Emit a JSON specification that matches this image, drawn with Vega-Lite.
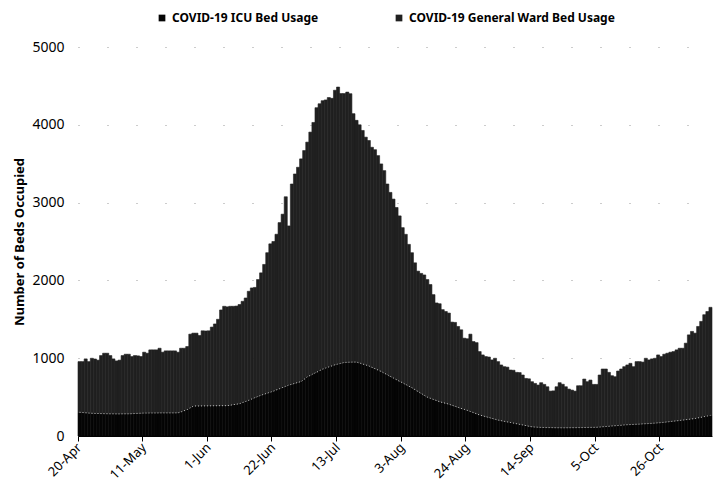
{
  "$schema": "https://vega.github.io/schema/vega-lite/v6.json",
  "width": 634,
  "height": 389,
  "autosize": {"type": "none"},
  "padding": {"left": 78, "top": 47, "right": 11, "bottom": 55},
  "background": "white",
  "config": {
    "font": "Noto Sans",
    "view": {"stroke": null},
    "axis": {"labelColor": "#000000", "titleColor": "#000000"}
  },
  "data": {
    "values": [
      {"d":"20-Apr","icu":305,"ward":651},{"d":"21-Apr","icu":302,"ward":654},{"d":"22-Apr","icu":298,"ward":693},{"d":"23-Apr","icu":295,"ward":661},{"d":"24-Apr","icu":292,"ward":707},{"d":"25-Apr","icu":290,"ward":700},{"d":"26-Apr","icu":289,"ward":686},{"d":"27-Apr","icu":288,"ward":746},{"d":"28-Apr","icu":287,"ward":777},{"d":"29-Apr","icu":286,"ward":778},{"d":"30-Apr","icu":285,"ward":749},
      {"d":"1-May","icu":285,"ward":706},{"d":"2-May","icu":284,"ward":681},{"d":"3-May","icu":284,"ward":691},{"d":"4-May","icu":285,"ward":749},{"d":"5-May","icu":285,"ward":766},{"d":"6-May","icu":285,"ward":766},{"d":"7-May","icu":287,"ward":734},{"d":"8-May","icu":289,"ward":745},{"d":"9-May","icu":291,"ward":739},{"d":"10-May","icu":293,"ward":728},{"d":"11-May","icu":295,"ward":782},{"d":"12-May","icu":295,"ward":769},{"d":"13-May","icu":296,"ward":811},{"d":"14-May","icu":296,"ward":811},{"d":"15-May","icu":296,"ward":811},{"d":"16-May","icu":297,"ward":831},{"d":"17-May","icu":297,"ward":780},{"d":"18-May","icu":297,"ward":797},{"d":"19-May","icu":297,"ward":797},{"d":"20-May","icu":297,"ward":797},{"d":"21-May","icu":297,"ward":797},{"d":"22-May","icu":298,"ward":779},{"d":"23-May","icu":310,"ward":818},{"d":"24-May","icu":325,"ward":803},{"d":"25-May","icu":340,"ward":810},{"d":"26-May","icu":362,"ward":947},{"d":"27-May","icu":385,"ward":937},{"d":"28-May","icu":386,"ward":936},{"d":"29-May","icu":386,"ward":906},{"d":"30-May","icu":387,"ward":965},{"d":"31-May","icu":387,"ward":963},
      {"d":"1-Jun","icu":388,"ward":964},{"d":"2-Jun","icu":388,"ward":1012},{"d":"3-Jun","icu":389,"ward":1051},{"d":"4-Jun","icu":389,"ward":1111},{"d":"5-Jun","icu":390,"ward":1230},{"d":"6-Jun","icu":390,"ward":1277},{"d":"7-Jun","icu":390,"ward":1270},{"d":"8-Jun","icu":396,"ward":1271},{"d":"9-Jun","icu":403,"ward":1264},{"d":"10-Jun","icu":409,"ward":1261},{"d":"11-Jun","icu":415,"ward":1275},{"d":"12-Jun","icu":430,"ward":1301},{"d":"13-Jun","icu":445,"ward":1329},{"d":"14-Jun","icu":460,"ward":1400},{"d":"15-Jun","icu":476,"ward":1427},{"d":"16-Jun","icu":493,"ward":1417},{"d":"17-Jun","icu":509,"ward":1502},{"d":"18-Jun","icu":525,"ward":1572},{"d":"19-Jun","icu":538,"ward":1667},{"d":"20-Jun","icu":551,"ward":1805},{"d":"21-Jun","icu":564,"ward":1906},{"d":"22-Jun","icu":577,"ward":1923},{"d":"23-Jun","icu":593,"ward":2000},{"d":"24-Jun","icu":608,"ward":2135},{"d":"25-Jun","icu":624,"ward":2227},{"d":"26-Jun","icu":640,"ward":2435},{"d":"27-Jun","icu":655,"ward":2045},{"d":"28-Jun","icu":666,"ward":2573},{"d":"29-Jun","icu":678,"ward":2690},{"d":"30-Jun","icu":689,"ward":2765},
      {"d":"1-Jul","icu":700,"ward":2862},{"d":"2-Jul","icu":730,"ward":2939},{"d":"3-Jul","icu":760,"ward":3017},{"d":"4-Jul","icu":780,"ward":3126},{"d":"5-Jul","icu":800,"ward":3230},{"d":"6-Jul","icu":820,"ward":3400},{"d":"7-Jul","icu":840,"ward":3430},{"d":"8-Jul","icu":860,"ward":3450},{"d":"9-Jul","icu":874,"ward":3446},{"d":"10-Jul","icu":888,"ward":3462},{"d":"11-Jul","icu":901,"ward":3439},{"d":"12-Jul","icu":915,"ward":3529},{"d":"13-Jul","icu":925,"ward":3560},{"d":"14-Jul","icu":935,"ward":3466},{"d":"15-Jul","icu":945,"ward":3456},{"d":"16-Jul","icu":947,"ward":3473},{"d":"17-Jul","icu":949,"ward":3451},{"d":"18-Jul","icu":950,"ward":3193},{"d":"19-Jul","icu":950,"ward":3107},{"d":"20-Jul","icu":938,"ward":3062},{"d":"21-Jul","icu":925,"ward":3002},{"d":"22-Jul","icu":913,"ward":2928},{"d":"23-Jul","icu":900,"ward":2898},{"d":"24-Jul","icu":883,"ward":2828},{"d":"25-Jul","icu":865,"ward":2815},{"d":"26-Jul","icu":848,"ward":2756},{"d":"27-Jul","icu":830,"ward":2667},{"d":"28-Jul","icu":809,"ward":2602},{"d":"29-Jul","icu":788,"ward":2451},{"d":"30-Jul","icu":766,"ward":2365},{"d":"31-Jul","icu":745,"ward":2300},
      {"d":"1-Aug","icu":724,"ward":2213},{"d":"2-Aug","icu":703,"ward":2126},{"d":"3-Aug","icu":683,"ward":1995},{"d":"4-Aug","icu":662,"ward":1930},{"d":"5-Aug","icu":641,"ward":1822},{"d":"6-Aug","icu":620,"ward":1736},{"d":"7-Aug","icu":596,"ward":1630},{"d":"8-Aug","icu":572,"ward":1547},{"d":"9-Aug","icu":548,"ward":1542},{"d":"10-Aug","icu":524,"ward":1546},{"d":"11-Aug","icu":500,"ward":1511},{"d":"12-Aug","icu":485,"ward":1462},{"d":"13-Aug","icu":470,"ward":1347},{"d":"14-Aug","icu":455,"ward":1255},{"d":"15-Aug","icu":440,"ward":1260},{"d":"16-Aug","icu":430,"ward":1194},{"d":"17-Aug","icu":420,"ward":1180},{"d":"18-Aug","icu":410,"ward":1170},{"d":"19-Aug","icu":396,"ward":1068},{"d":"20-Aug","icu":383,"ward":1077},{"d":"21-Aug","icu":369,"ward":1039},{"d":"22-Aug","icu":355,"ward":1010},{"d":"23-Aug","icu":343,"ward":914},{"d":"24-Aug","icu":330,"ward":920},{"d":"25-Aug","icu":315,"ward":994},{"d":"26-Aug","icu":300,"ward":914},{"d":"27-Aug","icu":285,"ward":915},{"d":"28-Aug","icu":270,"ward":815},{"d":"29-Aug","icu":259,"ward":783},{"d":"30-Aug","icu":248,"ward":773},{"d":"31-Aug","icu":238,"ward":777},
      {"d":"1-Sep","icu":227,"ward":751},{"d":"2-Sep","icu":216,"ward":783},{"d":"3-Sep","icu":205,"ward":751},{"d":"4-Sep","icu":197,"ward":716},{"d":"5-Sep","icu":189,"ward":702},{"d":"6-Sep","icu":181,"ward":704},{"d":"7-Sep","icu":174,"ward":674},{"d":"8-Sep","icu":166,"ward":679},{"d":"9-Sep","icu":158,"ward":660},{"d":"10-Sep","icu":150,"ward":665},{"d":"11-Sep","icu":142,"ward":642},{"d":"12-Sep","icu":134,"ward":606},{"d":"13-Sep","icu":126,"ward":609},{"d":"14-Sep","icu":118,"ward":580},{"d":"15-Sep","icu":115,"ward":561},{"d":"16-Sep","icu":113,"ward":542},{"d":"17-Sep","icu":110,"ward":575},{"d":"18-Sep","icu":109,"ward":554},{"d":"19-Sep","icu":108,"ward":525},{"d":"20-Sep","icu":108,"ward":469},{"d":"21-Sep","icu":107,"ward":473},{"d":"22-Sep","icu":106,"ward":527},{"d":"23-Sep","icu":106,"ward":579},{"d":"24-Sep","icu":105,"ward":560},{"d":"25-Sep","icu":106,"ward":527},{"d":"26-Sep","icu":106,"ward":497},{"d":"27-Sep","icu":107,"ward":483},{"d":"28-Sep","icu":107,"ward":470},{"d":"29-Sep","icu":108,"ward":538},{"d":"30-Sep","icu":108,"ward":538},
      {"d":"1-Oct","icu":109,"ward":623},{"d":"2-Oct","icu":110,"ward":588},{"d":"3-Oct","icu":111,"ward":608},{"d":"4-Oct","icu":111,"ward":552},{"d":"5-Oct","icu":112,"ward":551},{"d":"6-Oct","icu":115,"ward":669},{"d":"7-Oct","icu":119,"ward":742},{"d":"8-Oct","icu":122,"ward":739},{"d":"9-Oct","icu":125,"ward":693},{"d":"10-Oct","icu":129,"ward":646},{"d":"11-Oct","icu":132,"ward":630},{"d":"12-Oct","icu":135,"ward":700},{"d":"13-Oct","icu":138,"ward":723},{"d":"14-Oct","icu":142,"ward":749},{"d":"15-Oct","icu":145,"ward":768},{"d":"16-Oct","icu":147,"ward":787},{"d":"17-Oct","icu":149,"ward":742},{"d":"18-Oct","icu":151,"ward":805},{"d":"19-Oct","icu":153,"ward":803},{"d":"20-Oct","icu":156,"ward":794},{"d":"21-Oct","icu":158,"ward":841},{"d":"22-Oct","icu":160,"ward":818},{"d":"23-Oct","icu":163,"ward":828},{"d":"24-Oct","icu":166,"ward":833},{"d":"25-Oct","icu":169,"ward":873},{"d":"26-Oct","icu":172,"ward":849},{"d":"27-Oct","icu":177,"ward":874},{"d":"28-Oct","icu":181,"ward":883},{"d":"29-Oct","icu":186,"ward":891},{"d":"30-Oct","icu":191,"ward":894},{"d":"31-Oct","icu":195,"ward":912},
      {"d":"1-Nov","icu":200,"ward":928},{"d":"2-Nov","icu":205,"ward":923},{"d":"3-Nov","icu":210,"ward":983},{"d":"4-Nov","icu":215,"ward":1085},{"d":"5-Nov","icu":220,"ward":1124},{"d":"6-Nov","icu":225,"ward":1097},{"d":"7-Nov","icu":233,"ward":1175},{"d":"8-Nov","icu":241,"ward":1232},{"d":"9-Nov","icu":249,"ward":1310},{"d":"10-Nov","icu":257,"ward":1343},{"d":"11-Nov","icu":265,"ward":1389}
    ]
  },
  "layer": [
    {
      "transform": [{"fold": ["icu", "ward"], "as": ["series", "beds"]}],
      "mark": {"type": "bar", "strokeWidth": 0.6},
      "encoding": {
        "x": {
          "field": "d", "type": "ordinal", "sort": null,
          "scale": {"paddingInner": 0, "paddingOuter": 0},
          "axis": {
            "title": null,
            "values": ["20-Apr","11-May","1-Jun","22-Jun","13-Jul","3-Aug","24-Aug","14-Sep","5-Oct","26-Oct"],
            "bandPosition": 0,
            "labelAngle": -45,
            "labelAlign": "right",
            "labelBaseline": "middle",
            "labelFontSize": 13,
            "labelPadding": 4,
            "tickColor": "#000000",
            "tickSize": 5,
            "domainColor": "#000000",
            "domainWidth": 1,
            "grid": false
          }
        },
        "y": {
          "field": "beds", "type": "quantitative", "stack": "zero",
          "scale": {"domain": [0, 5000], "nice": false},
          "axis": {
            "title": "Number of Beds Occupied",
            "titleFontSize": 13,
            "titleFontWeight": "bold",
            "titlePadding": 5,
            "values": [0, 1000, 2000, 3000, 4000, 5000],
            "format": "d",
            "labelFontSize": 14,
            "labelPadding": 14,
            "domain": false,
            "ticks": false,
            "grid": true,
            "gridColor": "#999999",
            "gridDash": [1, 28],
            "gridWidth": 1
          }
        },
        "order": {"field": "series", "sort": "ascending"},
        "color": {
          "field": "series", "type": "nominal",
          "scale": {"domain": ["icu", "ward"], "range": ["#050505", "#202020"]},
          "legend": {
            "title": null,
            "orient": "none",
            "direction": "horizontal",
            "legendX": 78,
            "legendY": -35,
            "symbolType": "square",
            "symbolSize": 45,
            "symbolStrokeWidth": 0,
            "labelFontSize": 12,
            "labelFontWeight": "bold",
            "labelColor": "#000000",
            "labelOffset": 4,
            "labelLimit": 400,
            "columnPadding": 74,
            "labelExpr": "datum.label == 'icu' ? 'COVID-19 ICU Bed Usage' : 'COVID-19 General Ward Bed Usage'"
          }
        },
        "stroke": {
          "field": "series", "type": "nominal",
          "scale": {"domain": ["icu", "ward"], "range": ["#050505", "#202020"]},
          "legend": null
        }
      }
    },
    {
      "mark": {"type": "line", "stroke": "#ffffff", "strokeWidth": 1, "strokeDash": [1, 2], "opacity": 0.75},
      "encoding": {
        "x": {"field": "d", "type": "ordinal", "sort": null},
        "y": {"field": "icu", "type": "quantitative"}
      }
    }
  ]
}
